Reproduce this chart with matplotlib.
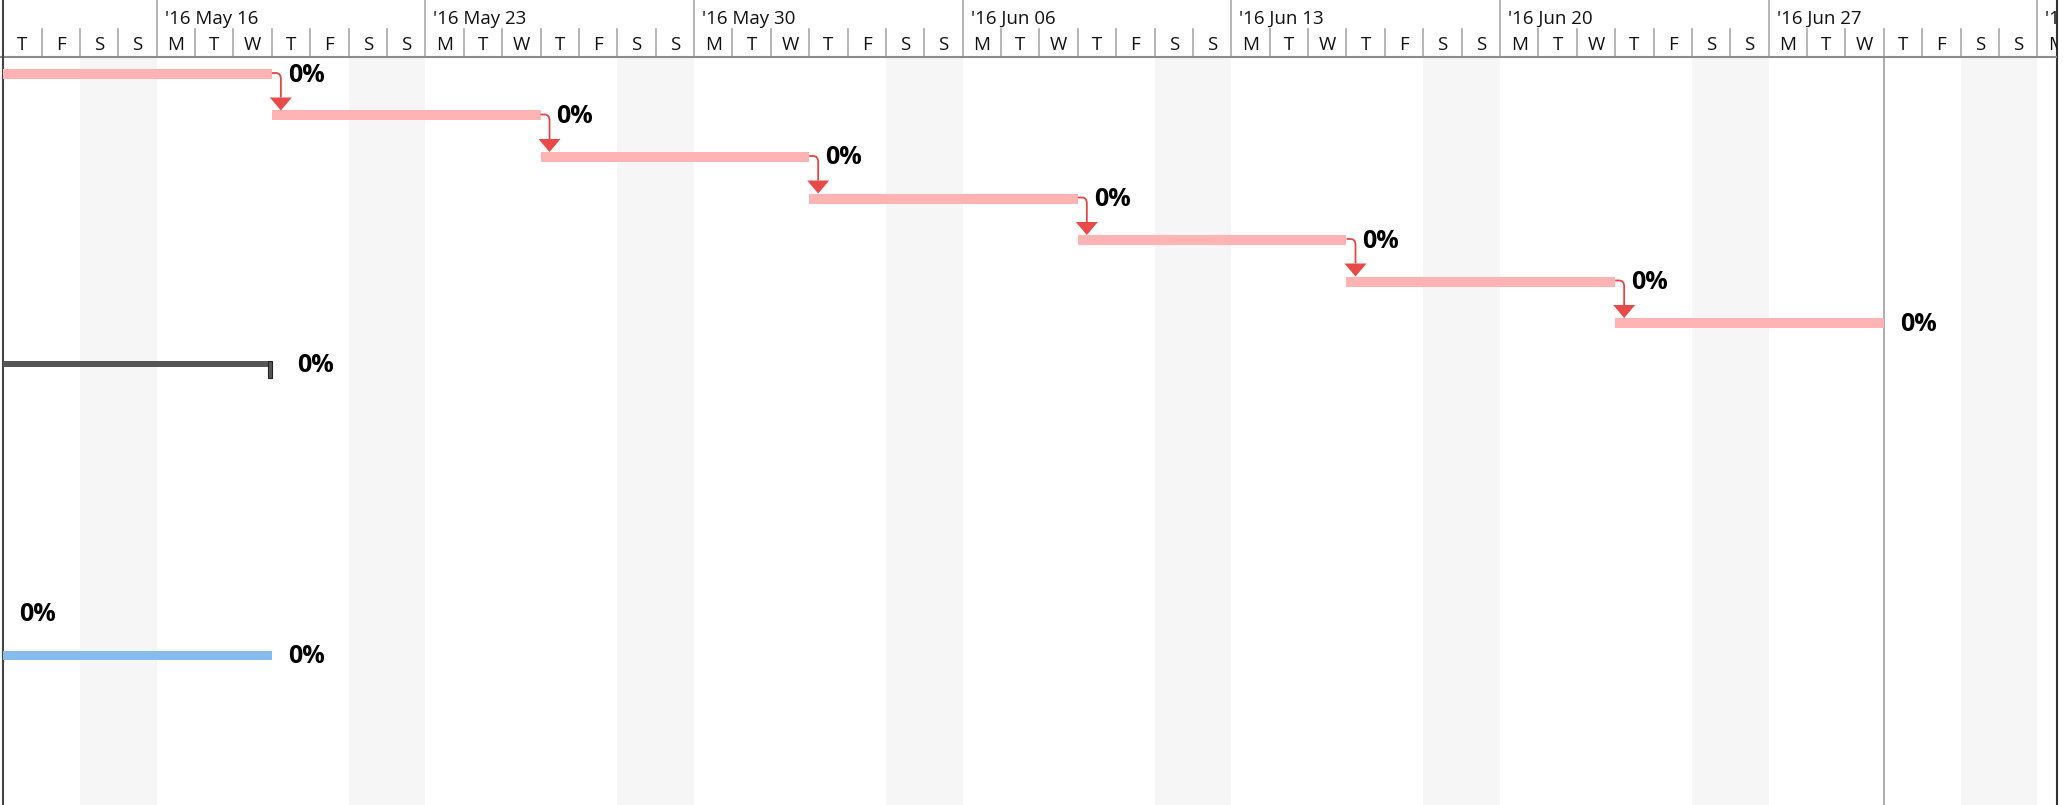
import matplotlib.pyplot as plt
import matplotlib.dates as mdates
from matplotlib.patches import Polygon, PathPatch, Rectangle
from matplotlib.path import Path
import datetime as dt

# Chart data
view_start = dt.date(2016, 5, 12)
view_end = dt.date(2016, 7, 4)
today_line = dt.date(2016, 6, 30)

# Linked tasks (pink), one row each
task_rows = [0, 1, 2, 3, 4, 5, 6]
task_start = ['2016-05-12', '2016-05-19', '2016-05-26', '2016-06-02',
              '2016-06-09', '2016-06-16', '2016-06-23']
task_end = ['2016-05-19', '2016-05-26', '2016-06-02', '2016-06-09',
            '2016-06-16', '2016-06-23', '2016-06-30']
task_progress = ['0%', '0%', '0%', '0%', '0%', '0%', '0%']

# Summary bar
summary_row = 7
summary_start = '2016-05-12'
summary_end = '2016-05-19'
summary_progress = '0%'

# Task that ends at the left edge (only its label shows)
hidden_row = 13
hidden_end = '2016-05-12'
hidden_progress = '0%'

# Blue task
blue_row = 14
blue_start = '2016-05-12'
blue_end = '2016-05-19'
blue_progress = '0%'

day_letters = ['M', 'T', 'W', 'T', 'F', 'S', 'S']

# Layout (pixels, figure is 2070x805 at 100 dpi)
W, H = 2070, 805
px_day = 38.38
head_h = 57
row0_y = 74
row_h = 41.5


def d(s):
    return mdates.date2num(dt.datetime.strptime(s, '%Y-%m-%d'))


def px(n):
    return n / px_day


def row_y(r):
    return row0_y + r * row_h


x_left = mdates.date2num(view_start) - px(3.2)
ax_w = 2057
x_right = x_left + px(ax_w)

fig = plt.figure(figsize=(W / 100, H / 100), dpi=100)
ax = fig.add_axes([0, 0, ax_w / W, 1])
ax.set_xlim(x_left, x_right)
ax.set_ylim(H, 0)
ax.set_xticks([])
ax.set_yticks([])
for s in ['top', 'left', 'bottom']:
    ax.spines[s].set_visible(False)
ax.spines['right'].set_color('#333333')
ax.spines['right'].set_linewidth(1.5)

hfont = dict(family=['Open Sans', 'DejaVu Sans'], fontsize=13.5, color='#111111')
bfont = dict(family=['Open Sans', 'DejaVu Sans'], fontsize=18, fontweight='bold',
             color='#000000')

# Calendar: weekend shading, header lines and letters
day = mdates.date2num(view_start)
while day < x_right:
    wd = mdates.num2date(day).weekday()
    if wd >= 5:
        ax.add_patch(Rectangle((day, head_h), 1, H - head_h, color='#f6f6f6',
                               lw=0, zorder=0))
    if wd == 0:
        ax.plot([day, day], [0, head_h], color='#a8a8a8', lw=1.2, zorder=2)
        lab = mdates.num2date(day).strftime("'%y %b %d")
        ax.text(day + px(8), 19, lab, ha='left', va='center', clip_on=True, **hfont)
    else:
        ax.plot([day, day], [29, head_h], color='#a8a8a8', lw=1.2, zorder=2)
    ax.text(day + 0.5, 45, day_letters[wd], ha='center', va='center',
            clip_on=True, **hfont)
    day += 1

ax.plot([x_left, x_right], [head_h, head_h], color='#8c8c8c', lw=1.5, zorder=3)
ax.axvline(mdates.date2num(view_start), color='#444444', lw=1.5, zorder=3)
ax.plot([mdates.date2num(today_line)] * 2, [head_h, H], color='#a0a0a0', lw=1.2,
        zorder=2)

# Pink tasks
bar_h = 10
lab_dy = 1
for r, s, e, p in zip(task_rows, task_start, task_end, task_progress):
    y = row_y(r)
    ax.add_patch(Rectangle((d(s), y - bar_h / 2), d(e) - d(s), bar_h,
                           color='#ffb3b3', lw=0, zorder=4))
    ax.text(d(e) + px(16), y + lab_dy, p, ha='left', va='center', **bfont)

# Dependency connectors
for i in range(len(task_rows) - 1):
    x0 = d(task_end[i])
    y0 = row_y(task_rows[i]) - 1
    xa = x0 + px(9)
    y_next_top = row_y(task_rows[i + 1]) - bar_h / 2
    tri_top = y_next_top - 13
    verts = [(x0, y0), (xa - px(5), y0), (xa, y0), (xa, y0 + 6), (xa, tri_top)]
    codes = [Path.MOVETO, Path.LINETO, Path.CURVE3, Path.CURVE3, Path.LINETO]
    ax.add_patch(PathPatch(Path(verts, codes), fill=False, ec='#e04848', lw=1.3,
                           zorder=5))
    ax.add_patch(Polygon([(xa - px(11), tri_top), (xa + px(11), tri_top),
                          (xa, y_next_top)], closed=True, color='#e84a4a', lw=0,
                         zorder=5))

# Summary bar with end cap
ys = row_y(summary_row)
ax.add_patch(Rectangle((d(summary_start), ys - 3), d(summary_end) - d(summary_start),
                       5.5, color='#555555', lw=0, zorder=4))
ax.add_patch(Rectangle((d(summary_end) - px(3.5), ys - 3.5), px(3.5), 17,
                       fc='#555555', ec='#222222', lw=0.8, zorder=4))
ax.text(d(summary_end) + px(25), ys + lab_dy, summary_progress, ha='left',
        va='center', **bfont)

# Label of the task ending at the left edge
yh = row_y(hidden_row)
ax.text(d(hidden_end) + px(16), yh + lab_dy, hidden_progress, ha='left',
        va='center', **bfont)

# Blue task
yb = row_y(blue_row)
ax.add_patch(Rectangle((d(blue_start), yb - 4.5), d(blue_end) - d(blue_start), 9,
                       color='#88bbee', lw=0, zorder=4))
ax.text(d(blue_end) + px(16), yb + lab_dy, blue_progress, ha='left', va='center',
        **bfont)

fig.savefig('out.png', dpi=100, facecolor='white')
